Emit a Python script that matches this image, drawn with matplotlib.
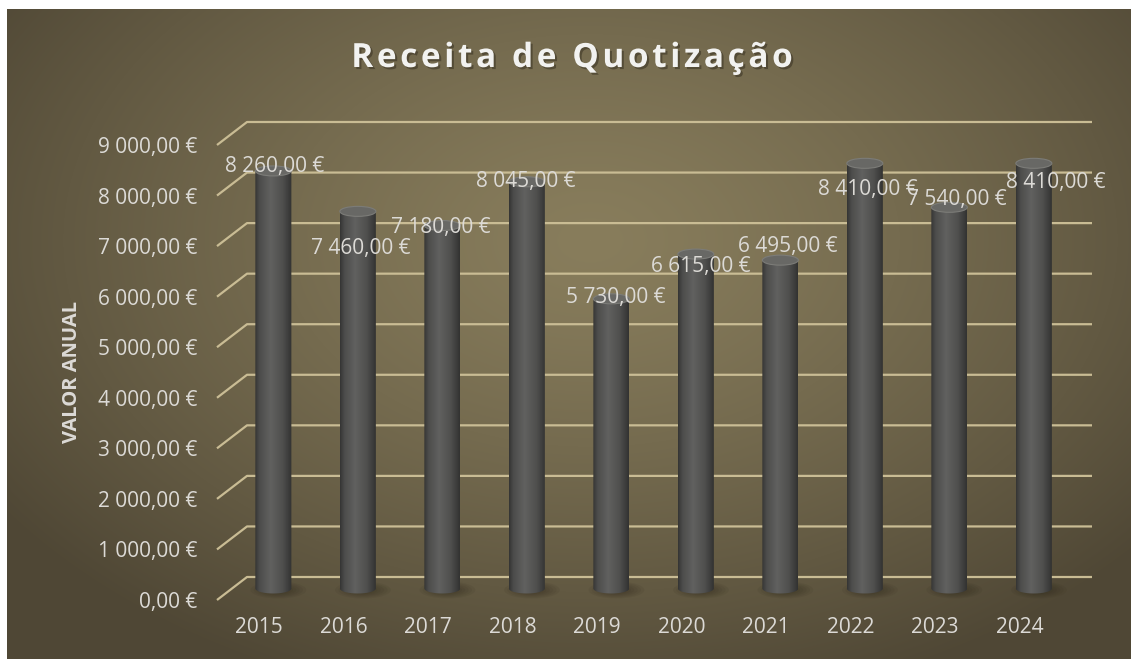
import numpy as np
import matplotlib.pyplot as plt
import matplotlib.patheffects as pe
from matplotlib.patches import Ellipse, PathPatch
from matplotlib.path import Path
from matplotlib.textpath import TextToPath
from matplotlib.font_manager import FontProperties

# --- DATA ---
years = ['2015', '2016', '2017', '2018', '2019', '2020', '2021', '2022', '2023', '2024']
values = [8260, 7460, 7180, 8045, 5730, 6615, 6495, 8410, 7540, 8410]
y_ticks = [0, 1000, 2000, 3000, 4000, 5000, 6000, 7000, 8000, 9000]
title = 'Receita de Quotização'

# --- LOOK ---
W, H = 1131, 659
FONT = 'Open Sans'
TXT = '#dcdad6'
GRID = '#c9bc94'
# label nudges in pixels (right, down) to mimic Excel's placement
label_shift = [(1, -7), (3, 35), (-2, -1), (-1, -3), (4, -4), (5, 10), (7, -16), (3, 24), (7, -10), (22, 17)]


def eur(v):
    return f"{v:,.2f}".replace(',', ' ').replace('.', ',') + ' €'


plt.rcParams['font.family'] = [FONT, 'DejaVu Sans']

fig = plt.figure(figsize=(W / 100, H / 100), dpi=100, facecolor='white')

# background: radial gradient, white border at top/left
bg = fig.add_axes([0, 0, 1, 1])
bg.axis('off')
gx, gy = np.meshgrid(np.arange(7, W), np.arange(9, H))
r = np.sqrt(((gx - 590) / 720.0) ** 2 + ((gy - 240) / 480.0) ** 2)
r = np.clip(r, 0, 1) ** 1.3
c_in = np.array([0x88, 0x7d, 0x5c]) / 255
c_out = np.array([0x4f, 0x47, 0x35]) / 255
img = c_in[None, None, :] * (1 - r[..., None]) + c_out[None, None, :] * r[..., None]
bg.imshow(img, extent=(7, W, H, 9), aspect='auto', interpolation='bilinear')
bg.set_xlim(0, W)
bg.set_ylim(H, 0)

# plot axes = front plane of the 3D box
x0_px, x1_px, ytop_px, ybot_px = 217, 1062, 145, 600
ax = fig.add_axes([x0_px / W, (H - ybot_px) / H, (x1_px - x0_px) / W, (ybot_px - ytop_px) / H])
ax.set_facecolor('none')
for s in ax.spines.values():
    s.set_visible(False)

n = len(years)
px_per_cat = (x1_px - x0_px) / n
px_per_val = (ybot_px - ytop_px) / 9000
ddx = 30 / px_per_cat      # depth offset in category units
ddy = 23 / px_per_val      # depth offset in value units
bw = 36 / px_per_cat       # cylinder width
eh = 10 / px_per_val       # ellipse height

# gridlines drawn in perspective (front edge -> back wall)
for v in y_ticks:
    ax.plot([-0.5, -0.5 + ddx, n - 0.5 + ddx], [v, v + ddy, v + ddy],
            color=GRID, lw=1.6, solid_capstyle='butt', clip_on=False, zorder=1)

# cylinders
stops = [0, 0.12, 0.42, 0.75, 1.0]
greys = [0.21, 0.30, 0.38, 0.31, 0.20]
sx = np.linspace(0, 1, 60)
gl = np.interp(sx, stops, greys)
body = np.stack([gl, gl, gl * 0.985], axis=-1)[None, :, :]

for i, (yr, v) in enumerate(zip(years, values)):
    xc = i + 0.47 * ddx
    yb = 0.5 * ddy
    yt = v + 0.5 * ddy

    # soft shadow on the floor
    for k in range(6):
        f = 1.0 - k * 0.12
        ax.add_patch(Ellipse((xc + 0.06, yb - 0.15 * eh), bw * 1.55 * f, eh * 1.7 * f,
                             facecolor='#2a2418', edgecolor='none', alpha=0.08,
                             zorder=2, clip_on=False))

    t = np.linspace(np.pi, 2 * np.pi, 40)
    verts = [(xc - bw / 2, yt), (xc - bw / 2, yb)]
    verts += list(zip(xc + bw / 2 * np.cos(t), yb + eh / 2 * np.sin(t)))
    verts += [(xc + bw / 2, yt), (xc - bw / 2, yt)]
    codes = [Path.MOVETO] + [Path.LINETO] * (len(verts) - 2) + [Path.CLOSEPOLY]
    clip = PathPatch(Path(verts, codes), facecolor='none', edgecolor='none', zorder=3)
    ax.add_patch(clip)
    im = ax.imshow(body, extent=(xc - bw / 2, xc + bw / 2, yb - eh, yt),
                   aspect='auto', interpolation='bilinear', zorder=3)
    im.set_clip_path(clip)

    ax.add_patch(Ellipse((xc, yt), bw, eh, facecolor='#686865', edgecolor='#7c7c78',
                         lw=0.8, zorder=4))

    sxp, syp = label_shift[i]
    ax.annotate(eur(v), xy=(xc, yt), xytext=(sxp * 0.72, -(syp + 8) * 0.72),
                textcoords='offset points', ha='center', va='baseline',
                fontsize=15, color=TXT, zorder=6, annotation_clip=False)

ax.set_xlim(-0.5, n - 0.5)
ax.set_ylim(0, 9000)
ax.set_xticks(range(n))
ax.set_xticklabels(years)
ax.set_yticks(y_ticks)
ax.set_yticklabels([eur(v) for v in y_ticks])
ax.tick_params(axis='both', length=0, labelsize=15, labelcolor=TXT)
ax.tick_params(axis='y', pad=14)
ax.tick_params(axis='x', pad=12)

ax.set_ylabel('VALOR ANUAL', fontsize=14.5, fontweight='bold', color=TXT)
ax.yaxis.label.set_position((72 / W, (H - 372) / H))
ax.yaxis.set_label_coords(72 / W, (H - 372) / H, transform=fig.transFigure)
ax.yaxis.label.set_verticalalignment('center')

# title with letter spacing (Excel style), drawn char by char
fsize = 24
fp = FontProperties(family=FONT, weight='bold', size=fsize)
t2p = TextToPath()


def adv(s):
    # advance width of a string in pixels (points -> px at 100 dpi)
    return t2p.get_text_width_height_descent(s, fp, ismath=False)[0] * 100 / 72


spacing = 3.6
total = adv(title) + spacing * (len(title) - 1)
start = 572 - total / 2
shadow = [pe.withSimplePatchShadow(offset=(1.5, -1.5), shadow_rgbFace='#2a2418', alpha=0.45)]
for k, ch in enumerate(title):
    xpx = start + adv(title[:k]) + spacing * k
    fig.text(xpx / W, (H - 67) / H, ch, ha='left', va='baseline', fontproperties=fp,
             color='#f2f2f0', path_effects=shadow)

fig.savefig('out.png', dpi=100)
